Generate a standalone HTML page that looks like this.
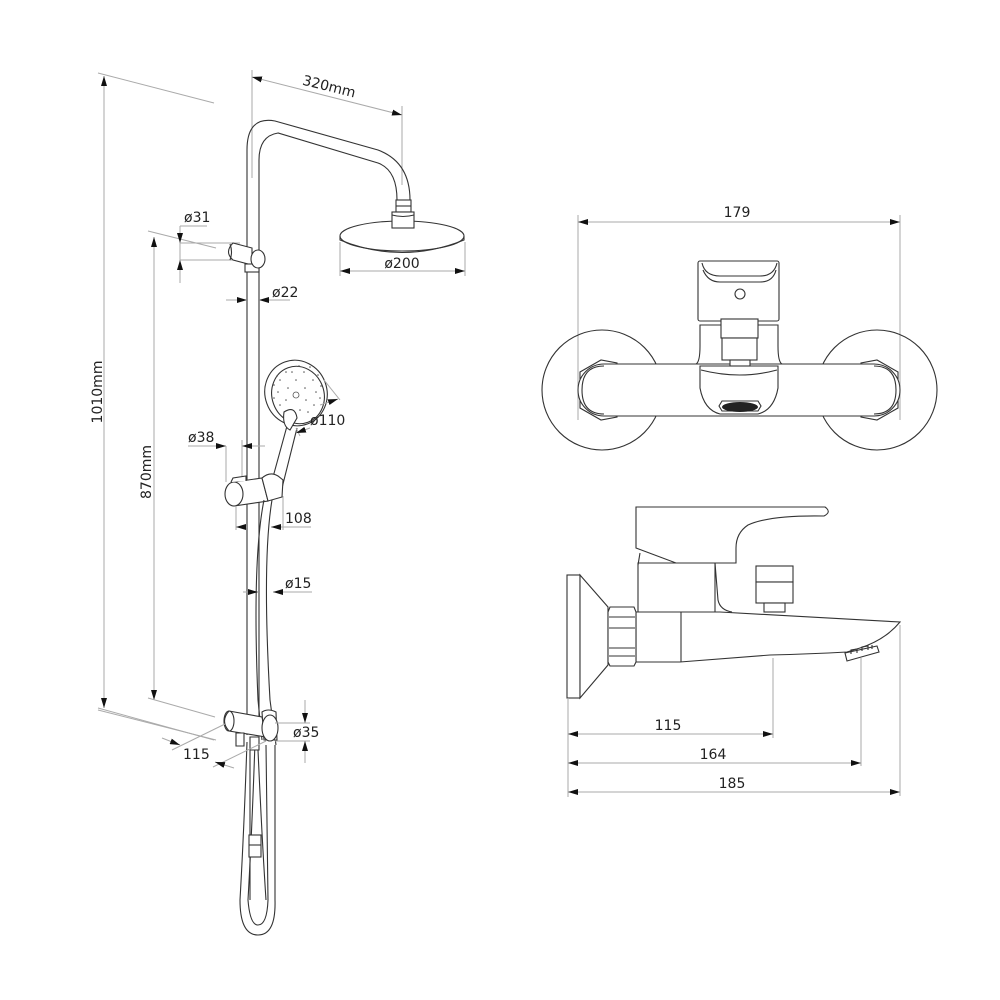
<!DOCTYPE html>
<html><head><meta charset="utf-8"><style>
html,body{margin:0;padding:0;background:#fff;}
svg{display:block;}
text{font-family:"DejaVu Sans","Liberation Sans",sans-serif;font-size:14px;fill:#222;}
.d{stroke:#aaa;stroke-width:1;fill:none;}
.o{stroke:#333;stroke-width:1.1;fill:none;}
.w{stroke:#333;stroke-width:1.1;fill:#fff;}
</style></head><body>
<svg width="1000" height="1000" viewBox="0 0 1000 1000" xmlns="http://www.w3.org/2000/svg">
<defs>
<marker id="a" viewBox="0 0 10 6" refX="10" refY="3" markerWidth="10" markerHeight="6" orient="auto-start-reverse" markerUnits="userSpaceOnUse"><path d="M0,0L10,3L0,6z" fill="#111"/></marker>
</defs>

<!-- ===== Shower column ===== -->
<!-- dimension 1010 -->
<line class="d" x1="98" y1="73" x2="214" y2="103"/>
<line class="d" x1="98" y1="708" x2="214" y2="740"/>
<line class="d" x1="104" y1="76" x2="104" y2="708" marker-start="url(#a)" marker-end="url(#a)"/>
<text transform="translate(102,392) rotate(-90)" text-anchor="middle">1010mm</text>
<!-- dimension 870 -->
<line class="d" x1="148" y1="231" x2="216" y2="248"/>
<line class="d" x1="98" y1="710" x2="216" y2="740"/>
<line class="d" x1="154" y1="237" x2="154" y2="700" marker-start="url(#a)" marker-end="url(#a)"/>
<line class="d" x1="148" y1="698" x2="215" y2="717"/>
<text transform="translate(151,472) rotate(-90)" text-anchor="middle">870mm</text>

<!-- 320mm -->
<line class="d" x1="252" y1="70" x2="252" y2="178"/>
<line class="d" x1="402" y1="106" x2="402" y2="185"/>
<line class="d" x1="252" y1="77" x2="402" y2="115" marker-start="url(#a)" marker-end="url(#a)"/>
<text transform="translate(328,91) rotate(14)" text-anchor="middle">320mm</text>

<!-- rail with top bend -->
<path class="o" d="M247,735 L247,150 Q247,116 275,121 L378,150 Q410,162 410,200"/>
<path class="o" d="M259,735 L259,160 Q259,136 278,133 L378,163 Q397,170 397,200"/>
<rect class="w" x="396" y="200" width="15" height="12"/>
<line class="o" x1="396" y1="206" x2="411" y2="206"/>
<!-- head -->
<ellipse class="w" cx="402" cy="236" rx="62" ry="15"/>
<path class="o" d="M340,236 L340,240 Q402,265 464,240 L464,236"/>
<rect class="w" x="392" y="212" width="22" height="16"/>
<path class="o" d="M392,215 Q403,218 414,215"/>
<!-- ø200 -->
<line class="d" x1="340" y1="242" x2="340" y2="276"/>
<line class="d" x1="465" y1="242" x2="465" y2="276"/>
<line class="d" x1="340" y1="271" x2="465" y2="271" marker-start="url(#a)" marker-end="url(#a)"/>
<text x="402" y="268" text-anchor="middle">ø200</text>

<!-- ø31 -->
<line class="d" x1="180" y1="226" x2="180" y2="283"/>
<line class="d" x1="180" y1="233" x2="180" y2="243" marker-end="url(#a)"/>
<line class="d" x1="180" y1="270" x2="180" y2="260" marker-end="url(#a)"/>
<line class="d" x1="180" y1="243" x2="240" y2="243"/>
<line class="d" x1="180" y1="260" x2="240" y2="260"/>
<line class="d" x1="180" y1="226" x2="207" y2="226"/>
<text x="184" y="222">ø31</text>
<!-- top bracket -->
<path class="w" d="M233,243 L252,248 L252,265 L233,260 Q224,252 233,243z"/>
<rect class="w" x="245" y="264" width="14" height="8"/>
<ellipse class="w" cx="258" cy="259" rx="7" ry="9"/>
<path class="o" d="M230,244 Q233,252 230,260"/>

<!-- ø22 -->
<line class="d" x1="226" y1="300" x2="247" y2="300" marker-end="url(#a)"/>
<line class="d" x1="290" y1="300" x2="259" y2="300" marker-end="url(#a)"/>
<text x="272" y="297">ø22</text>

<!-- hand shower -->
<path class="o" d="M287,426 L270,488 M297,428 L282,488"/>
<ellipse class="w" cx="296" cy="393" rx="31" ry="33" transform="rotate(-20 296 393)"/>
<ellipse class="o" cx="298" cy="395" rx="26" ry="29" transform="rotate(-20 298 395)"/>
<g fill="#555">
<circle cx="296" cy="395" r="3" fill="none" stroke="#555" stroke-width="0.8"/>
<circle cx="288" cy="388" r="0.8"/><circle cx="296" cy="380" r="0.8"/><circle cx="305" cy="388" r="0.8"/><circle cx="306" cy="400" r="0.8"/><circle cx="286" cy="400" r="0.8"/>
<circle cx="280" cy="380" r="0.8"/><circle cx="292" cy="372" r="0.8"/><circle cx="304" cy="372" r="0.8"/><circle cx="313" cy="380" r="0.8"/><circle cx="316" cy="392" r="0.8"/><circle cx="314" cy="405" r="0.8"/><circle cx="278" cy="392" r="0.8"/><circle cx="280" cy="405" r="0.8"/>
<circle cx="286" cy="372" r="0.8"/><circle cx="299" cy="366" r="0.8"/><circle cx="310" cy="367" r="0.8"/><circle cx="318" cy="375" r="0.8"/><circle cx="321" cy="386" r="0.8"/><circle cx="320" cy="398" r="0.8"/><circle cx="274" cy="385" r="0.8"/><circle cx="274" cy="398" r="0.8"/><circle cx="277" cy="376" r="0.8"/><circle cx="300" cy="410" r="0.8"/><circle cx="308" cy="412" r="0.8"/>
</g>
<path class="w" d="M284,412 Q295,405 297,418 L290,430 Q282,426 284,412z"/>
<!-- ø110 -->
<line class="d" x1="324" y1="380" x2="340" y2="400"/>
<line class="d" x1="296" y1="428" x2="300" y2="436"/>
<line class="d" x1="320" y1="405" x2="338" y2="399" marker-end="url(#a)"/>
<line class="d" x1="310" y1="428" x2="296" y2="433" marker-end="url(#a)"/>
<text x="310" y="425">ø110</text>

<!-- ø38 -->
<line class="d" x1="188" y1="446" x2="226" y2="446" marker-end="url(#a)"/>
<line class="d" x1="265" y1="446" x2="242" y2="446" marker-end="url(#a)"/>
<line class="d" x1="226" y1="446" x2="226" y2="482"/>
<line class="d" x1="242" y1="440" x2="242" y2="482"/>
<text x="188" y="442">ø38</text>

<!-- middle holder -->
<path class="w" d="M234,482 L262,478 L268,501 L234,506z"/>
<path class="w" d="M262,478 Q270,471 278,476 L283,480 L282,497 L268,501z"/>
<ellipse class="w" cx="234" cy="494" rx="9" ry="12"/>
<path class="w" d="M231,482 L233,478 L246,476 L246,481"/>
<!-- 108 -->
<line class="d" x1="236" y1="506" x2="236" y2="530"/>
<line class="d" x1="283" y1="496" x2="283" y2="530"/>
<line class="d" x1="236" y1="527" x2="247" y2="527" marker-start="url(#a)"/>
<line class="d" x1="271" y1="527" x2="311" y2="527"/>
<line class="d" x1="283" y1="527" x2="271" y2="527" marker-end="url(#a)"/>
<text x="285" y="523">108</text>

<!-- hose -->
<path class="o" d="M264,500 Q252,560 258,700 L262,740"/>
<path class="o" d="M272,500 Q262,560 270,700 L276,745"/>
<path class="o" d="M247,742 Q244,830 240,900 Q240,935 258,935 Q276,935 275,900 L275,745"/>
<path class="o" d="M255,742 Q252,830 248,900 Q250,925 258,925 Q267,925 268,900 L266,745"/>
<path class="o" d="M250,750 L250,900 M258,750 Q262,840 266,900"/>
<rect class="w" x="249" y="835" width="12" height="22"/>
<line class="o" x1="249" y1="845" x2="261" y2="845"/>

<!-- ø15 -->
<line class="d" x1="243" y1="592" x2="258" y2="592" marker-end="url(#a)"/>
<line class="d" x1="312" y1="592" x2="273" y2="592"/>
<line class="d" x1="284" y1="592" x2="273" y2="592" marker-end="url(#a)"/>
<text x="285" y="588">ø15</text>

<!-- lower holder -->
<path class="w" d="M229,711 L262,717 L266,737 L229,731 Q220,721 229,711z"/>
<ellipse class="o" cx="229" cy="721" rx="5" ry="10"/>
<path class="w" d="M262,712 Q268,708 276,712 L277,740 L264,740z"/>
<ellipse class="w" cx="270" cy="728" rx="8" ry="13"/>
<path class="w" d="M236,733 L244,733 L244,746 L236,746z"/>
<path class="w" d="M250,737 L259,737 L259,750 L250,750z"/>
<!-- ø35 -->
<line class="d" x1="275" y1="723" x2="310" y2="723"/>
<line class="d" x1="275" y1="741" x2="310" y2="741"/>
<line class="d" x1="305" y1="700" x2="305" y2="723" marker-end="url(#a)"/>
<line class="d" x1="305" y1="763" x2="305" y2="741" marker-end="url(#a)"/>
<text x="293" y="737">ø35</text>
<!-- 115 -->
<line class="d" x1="172" y1="750" x2="225" y2="724"/>
<line class="d" x1="213" y1="767" x2="266" y2="741"/>
<line class="d" x1="162" y1="738" x2="180" y2="745" marker-end="url(#a)"/>
<line class="d" x1="234" y1="768" x2="215" y2="762" marker-end="url(#a)"/>
<text x="183" y="759">115</text>

<!-- ===== Front view mixer ===== -->
<line class="d" x1="578" y1="215" x2="578" y2="420"/>
<line class="d" x1="900" y1="215" x2="900" y2="420"/>
<line class="d" x1="578" y1="222" x2="900" y2="222" marker-start="url(#a)" marker-end="url(#a)"/>
<text x="737" y="217" text-anchor="middle">179</text>
<circle class="o" cx="602" cy="390" r="60"/>
<circle class="o" cx="877" cy="390" r="60"/>
<path class="w" d="M580,372 L601,360 L617,363 L617,417 L601,420 L580,408z"/>
<path class="w" d="M898,372 L877,360 L861,363 L861,417 L877,420 L898,408z"/>
<rect class="w" x="578" y="364" width="322" height="52" rx="26"/>
<path class="o" d="M582,390 Q582,366 604,366 M582,390 Q582,414 604,414 M896,390 Q896,366 874,366 M896,390 Q896,414 874,414"/>
<!-- central body -->
<path class="w" d="M700,325 L778,325 L778,346 Q778,362 782,364 L696,364 Q700,362 700,346z"/>
<path class="w" d="M700,366 L778,366 L778,388 Q774,410 758,414 L720,414 Q704,410 700,388z"/>
<path class="o" d="M701,370 Q740,380 777,370"/>
<path class="w" d="M719,406 L722,401 L758,401 L761,406 L758,411 L722,411z"/>
<ellipse cx="740" cy="407" rx="18" ry="5" fill="#222"/>
<rect class="w" x="698" y="261" width="81" height="60" rx="2"/>
<path class="o" d="M702,263 Q705,276 720,276 L760,276 Q774,276 777,263"/>
<path class="o" d="M703,270 Q708,282 720,282 L760,282 Q773,282 776,270"/>
<circle class="o" cx="740" cy="294" r="5"/>
<rect class="w" x="721" y="319" width="37" height="19"/>
<rect class="w" x="722" y="338" width="35" height="22"/>
<rect class="w" x="730" y="360" width="20" height="6"/>

<!-- ===== Side view mixer ===== -->
<!-- lever -->
<path class="w" d="M636,507 L825,507 Q832,512 824,516 Q770,515 748,525 Q736,533 736,548 L736,563 L676,563 L636,548z"/>
<path class="w" d="M638,563 L715,563 L715,612 L638,612z"/>
<path class="o" d="M640,553 L638,565 M715,563 L718,600 Q720,610 732,612"/>
<rect class="w" x="756" y="566" width="37" height="16"/>
<rect class="w" x="756" y="582" width="37" height="21"/>
<rect class="w" x="764" y="603" width="21" height="9"/>
<!-- wall plate -->
<rect class="w" x="567" y="575" width="13" height="123"/>
<path class="w" d="M580,575 L608,607 L608,665 L580,698z"/>
<!-- body/spout -->
<path class="w" d="M636,612 L720,612 L900,622 Q885,640 860,648 L847,652 Q810,654 770,655 Q730,658 680,662 L636,662z"/>
<line class="o" x1="681" y1="612" x2="681" y2="662"/>
<!-- nut -->
<path class="w" d="M610,607 L634,607 L636,612 L636,662 L634,666 L610,666 L608,662 L608,612z"/>
<line class="o" x1="609" y1="617" x2="635" y2="617"/>
<line class="o" x1="609" y1="628" x2="635" y2="628"/>
<line class="o" x1="609" y1="648" x2="635" y2="648"/>
<line class="o" x1="609" y1="656" x2="635" y2="656"/>
<!-- aerator -->
<path class="w" d="M845,653 L877,646 L879,652 L847,661z"/>
<path class="o" d="M851,654 L851,650 L857,649 L857,653 M862,651 L862,647 L868,646 L868,650 M872,649 L872,645"/>
<!-- dims -->
<line class="d" x1="568" y1="698" x2="568" y2="797"/>
<line class="d" x1="773" y1="658" x2="773" y2="738"/>
<line class="d" x1="861" y1="658" x2="861" y2="766"/>
<line class="d" x1="900" y1="625" x2="900" y2="796"/>
<line class="d" x1="568" y1="734" x2="773" y2="734" marker-start="url(#a)" marker-end="url(#a)"/>
<line class="d" x1="568" y1="763" x2="861" y2="763" marker-start="url(#a)" marker-end="url(#a)"/>
<line class="d" x1="568" y1="792" x2="900" y2="792" marker-start="url(#a)" marker-end="url(#a)"/>
<text x="668" y="730" text-anchor="middle">115</text>
<text x="713" y="759" text-anchor="middle">164</text>
<text x="732" y="788" text-anchor="middle">185</text>
</svg>
</body></html>
